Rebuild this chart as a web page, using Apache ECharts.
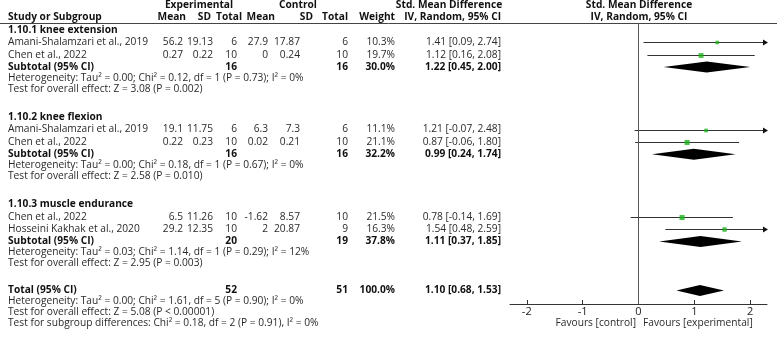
<!DOCTYPE html>
<html>
<head>
<meta charset="utf-8">
<script src="https://cdn.jsdelivr.net/npm/echarts@6/dist/echarts.min.js"></script>
<style>
  html, body { margin: 0; padding: 0; background: #fff; }
  #chart { width: 777px; height: 338px; }
</style>
</head>
<body>
<div id="chart"></div>
<script>
// forest plot, std. mean difference (IV, random)

// studies
var studyNames = ['Amani-Shalamzari et al., 2019', 'Chen et al., 2022', 'Amani-Shalamzari et al., 2019', 'Chen et al., 2022', 'Chen et al., 2022', 'Hosseini Kakhak et al., 2020'];
var studyGroup = [0, 0, 1, 1, 2, 2];
var expMean = ['56.2', '0.27', '19.1', '0.22', '6.5', '29.2'];
var expSD = ['19.13', '0.22', '11.75', '0.23', '11.26', '12.35'];
var expN = [6, 10, 6, 10, 10, 10];
var ctlMean = ['27.9', '0', '6.3', '0.02', '-1.62', '2'];
var ctlSD = ['17.87', '0.24', '7.3', '0.21', '8.57', '20.87'];
var ctlN = [6, 10, 6, 10, 10, 9];
var weights = [10.3, 19.7, 11.1, 21.1, 21.5, 16.3];
var smd = [1.41, 1.12, 1.21, 0.87, 0.78, 1.54];
var ciLow = [0.09, 0.16, -0.07, -0.06, -0.14, 0.48];
var ciHigh = [2.74, 2.08, 2.48, 1.80, 1.69, 2.59];

// subgroups
var groupNames = ['1.10.1 knee extension', '1.10.2 knee flexion', '1.10.3 muscle endurance'];
var subExpN = [16, 16, 20];
var subCtlN = [16, 16, 19];
var subWeight = [30.0, 32.2, 37.8];
var subSmd = [1.22, 0.99, 1.11];
var subLow = [0.45, 0.24, 0.37];
var subHigh = [2.00, 1.74, 1.85];
var subHetero = [
  'Heterogeneity: Tau\u00b2 = 0.00; Chi\u00b2 = 0.12, df = 1 (P = 0.73); I\u00b2 = 0%',
  'Heterogeneity: Tau\u00b2 = 0.00; Chi\u00b2 = 0.18, df = 1 (P = 0.67); I\u00b2 = 0%',
  'Heterogeneity: Tau\u00b2 = 0.03; Chi\u00b2 = 1.14, df = 1 (P = 0.29); I\u00b2 = 12%'
];
var subTest = [
  'Test for overall effect: Z = 3.08 (P = 0.002)',
  'Test for overall effect: Z = 2.58 (P = 0.010)',
  'Test for overall effect: Z = 2.95 (P = 0.003)'
];

// overall
var totalExpN = 52;
var totalCtlN = 51;
var totalWeight = 100.0;
var totalSmd = 1.10;
var totalLow = 0.68;
var totalHigh = 1.53;
var totalNotes = [
  'Heterogeneity: Tau\u00b2 = 0.00; Chi\u00b2 = 1.61, df = 5 (P = 0.90); I\u00b2 = 0%',
  'Test for overall effect: Z = 5.08 (P < 0.00001)',
  'Test for subgroup differences: Chi\u00b2 = 0.18, df = 2 (P = 0.91), I\u00b2 = 0%'
];

// axis
var tickValues = [-2, -1, 0, 1, 2];
var X_MIN = -2.3, X_MAX = 2.3;

// layout (y in pixels, top down)
var W = 777, H = 338;
var ROW = 12.35;      // study / subtotal row height
var NOTE = 11;        // text-only row height
var GROUP_GAP = 28.2;
var TOTAL_GAP = 27;
var Y_HEAD1 = 5, Y_HEAD2 = 16.8;
var Y_FIRST = 30;
var LINE_Y = 23;   // header rule
var AXIS_Y = 304;
var FONT = "'Open Sans'";
var FS = 10.2;
var TXT = '#2a2a2a';
var BOLD = '#111';

function ciText(m, l, h) { return m.toFixed(2) + ' [' + l.toFixed(2) + ', ' + h.toFixed(2) + ']'; }

// collect text cells: [x, y, text, align, bold]
var cells = [];
function cell(x, y, text, align, bold) { cells.push([x, y, String(text), align, bold]); }

var COL = { name: 8, expMean: 183, expSD: 213, expN: 237, ctlMean: 268, ctlSD: 300, ctlN: 348, weight: 395, ci: 501 };

// headers
cell(199, Y_HEAD1, 'Experimental', 'center', true);
cell(298, Y_HEAD1, 'Control', 'center', true);
cell(449, Y_HEAD1, 'Std. Mean Difference', 'center', true);
cell(639, Y_HEAD1, 'Std. Mean Difference', 'center', true);
cell(COL.name, Y_HEAD2, 'Study or Subgroup', 'left', true);
cell(186, Y_HEAD2, 'Mean', 'right', true);
cell(211, Y_HEAD2, 'SD', 'right', true);
cell(242, Y_HEAD2, 'Total', 'right', true);
cell(275, Y_HEAD2, 'Mean', 'right', true);
cell(313, Y_HEAD2, 'SD', 'right', true);
cell(348, Y_HEAD2, 'Total', 'right', true);
cell(COL.weight, Y_HEAD2, 'Weight', 'right', true);
cell(COL.ci, Y_HEAD2, 'IV, Random, 95% CI', 'right', true);
cell(639, Y_HEAD2, 'IV, Random, 95% CI', 'center', true);

var studyY = [];
var subY = [];
var y = Y_FIRST;
groupNames.forEach(function (gname, g) {
  cell(COL.name, y, gname, 'left', true);
  studyNames.forEach(function (n, i) {
    if (studyGroup[i] !== g) return;
    y += ROW;
    studyY[i] = y;
    cell(COL.name, y, n, 'left', false);
    cell(COL.expMean, y, expMean[i], 'right', false);
    cell(COL.expSD, y, expSD[i], 'right', false);
    cell(COL.expN, y, expN[i], 'right', false);
    cell(COL.ctlMean, y, ctlMean[i], 'right', false);
    cell(COL.ctlSD, y, ctlSD[i], 'right', false);
    cell(COL.ctlN, y, ctlN[i], 'right', false);
    cell(COL.weight, y, weights[i].toFixed(1) + '%', 'right', false);
    cell(COL.ci, y, ciText(smd[i], ciLow[i], ciHigh[i]), 'right', false);
  });
  y += ROW;
  subY.push(y);
  cell(COL.name, y, 'Subtotal (95% CI)', 'left', true);
  cell(COL.expN, y, subExpN[g], 'right', true);
  cell(COL.ctlN, y, subCtlN[g], 'right', true);
  cell(COL.weight, y, subWeight[g].toFixed(1) + '%', 'right', true);
  cell(COL.ci, y, ciText(subSmd[g], subLow[g], subHigh[g]), 'right', true);
  y += NOTE;
  cell(COL.name, y, subHetero[g], 'left', false);
  y += NOTE;
  cell(COL.name, y, subTest[g], 'left', false);
  y += (g < groupNames.length - 1) ? GROUP_GAP : TOTAL_GAP;
});

var totalY = y;
cell(COL.name, totalY, 'Total (95% CI)', 'left', true);
cell(COL.expN, totalY, totalExpN, 'right', true);
cell(COL.ctlN, totalY, totalCtlN, 'right', true);
cell(COL.weight, totalY, totalWeight.toFixed(1) + '%', 'right', true);
cell(COL.ci, totalY, ciText(totalSmd, totalLow, totalHigh), 'right', true);
totalNotes.forEach(function (t, k) { cell(COL.name, totalY + NOTE * (k + 1), t, 'left', false); });

var favY = totalY + NOTE * 3;
cell(636, favY, 'Favours [control]', 'right', false);
cell(643, favY, 'Favours [experimental]', 'left', false);

var chart = echarts.init(document.getElementById('chart'), null, { renderer: 'canvas' });

var option = {
  animation: false,
  backgroundColor: '#fff',
  grid: [
    { left: 510, right: W - 767, top: LINE_Y, bottom: H - AXIS_Y, containLabel: false, outerBoundsMode: 'none' },
    { left: 0, right: 0, top: 0, bottom: 0, containLabel: false, outerBoundsMode: 'none' }
  ],
  xAxis: [
    {
      type: 'value', gridIndex: 0, min: X_MIN, max: X_MAX,
      splitLine: { show: false },
      axisLine: { show: true, onZero: false, lineStyle: { color: '#333', width: 1 } },
      axisTick: { show: true, inside: true, length: 4, customValues: tickValues, lineStyle: { color: '#333' } },
      axisLabel: { show: true, customValues: tickValues, margin: 2, color: '#222', fontFamily: 'Open Sans', fontSize: 11 }
    },
    { type: 'value', gridIndex: 1, min: 0, max: W, show: false }
  ],
  yAxis: [
    { type: 'value', gridIndex: 0, inverse: true, min: LINE_Y, max: AXIS_Y, show: false },
    { type: 'value', gridIndex: 1, inverse: true, min: 0, max: H, show: false }
  ],
  series: [
    // table text + header rule
    {
      type: 'custom', xAxisIndex: 1, yAxisIndex: 1, silent: true, z: 3,
      data: cells.map(function (c) { return [c[0], c[1]]; }),
      renderItem: function (params, api) {
        var c = cells[params.dataIndex];
        var p = api.coord([api.value(0), api.value(1)]);
        return {
          type: 'text', x: p[0], y: p[1],
          style: {
            text: c[2], fill: c[4] ? BOLD : TXT,
            font: (c[4] ? 'bold ' : '') + FS + 'px ' + FONT,
            align: c[3], verticalAlign: 'middle'
          }
        };
      },
      markLine: {
        silent: true, symbol: 'none', label: { show: false },
        lineStyle: { color: '#444', width: 1, type: 'solid' },
        data: [{ yAxis: LINE_Y }]
      }
    },
    // confidence intervals
    {
      type: 'custom', xAxisIndex: 0, yAxisIndex: 0, silent: true, z: 2,
      data: studyY.map(function (sy, i) { return [ciLow[i], ciHigh[i], sy]; }),
      encode: { x: [0, 1], y: 2 },
      renderItem: function (params, api) {
        var lo = api.value(0), hi = api.value(1), row = api.value(2);
        var a = api.coord([Math.max(lo, X_MIN), row]);
        var b = api.coord([Math.min(hi, X_MAX), row]);
        var ly = Math.round(a[1]) + 0.5;
        var kids = [{ type: 'line', shape: { x1: a[0], y1: ly, x2: b[0], y2: ly }, style: { stroke: '#333', lineWidth: 1 } }];
        if (hi > X_MAX) {
          kids.push({ type: 'polygon', shape: { points: [[b[0] + 1, ly], [b[0] - 4, ly - 3], [b[0] - 4, ly + 3]] }, style: { fill: '#111' } });
        }
        return { type: 'group', children: kids };
      },
      markLine: {
        silent: true, symbol: 'none', label: { show: false },
        lineStyle: { color: '#555', width: 1, type: 'solid' },
        data: [{ xAxis: 0 }]
      }
    },
    // study squares
    {
      type: 'scatter', xAxisIndex: 0, yAxisIndex: 0, silent: true, z: 4,
      symbol: 'rect',
      data: studyY.map(function (sy, i) { return [smd[i], Math.round(sy) + 0.5]; }),
      symbolSize: function (v, params) { return Math.sqrt(weights[params.dataIndex]) * 1.1; },
      itemStyle: { color: '#1db31d' }
    },
    // diamonds (subtotals and total)
    {
      type: 'custom', xAxisIndex: 0, yAxisIndex: 0, silent: true, z: 4,
      data: subY.map(function (sy, g) { return [subLow[g], subSmd[g], subHigh[g], sy]; })
        .concat([[totalLow, totalSmd, totalHigh, totalY]]),
      encode: { x: [0, 1, 2], y: 3 },
      renderItem: function (params, api) {
        var row = api.value(3);
        var l = api.coord([api.value(0), row]);
        var m = api.coord([api.value(1), row]);
        var h = api.coord([api.value(2), row]);
        var hh = 5.5;
        return {
          type: 'polygon',
          shape: { points: [[l[0], l[1]], [m[0], m[1] - hh], [h[0], h[1]], [m[0], m[1] + hh]] },
          style: { fill: '#000' }
        };
      }
    }
  ]
};

chart.setOption(option);
</script>
</body>
</html>
